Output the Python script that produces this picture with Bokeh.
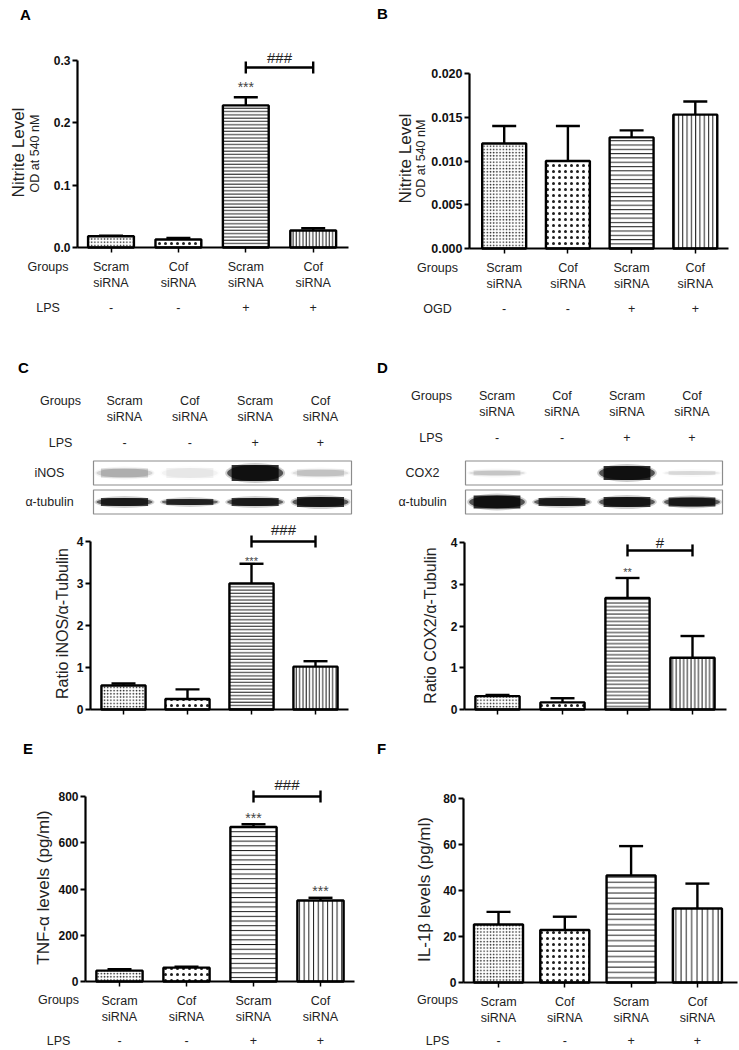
from math import pi
from bokeh.plotting import figure
from bokeh.models import Range1d, FixedTicker, Label, ColumnDataSource
from bokeh.layouts import row, column
from bokeh.embed import file_html
from bokeh.resources import INLINE

# ---------------- data ----------------
positions = [1, 2, 3, 4]
group_labels = ["Scram\nsiRNA", "Cof\nsiRNA", "Scram\nsiRNA", "Cof\nsiRNA"]
group_line1 = ["Scram", "Cof", "Scram", "Cof"]
group_line2 = ["siRNA", "siRNA", "siRNA", "siRNA"]
treatment_signs = ["-", "-", "+", "+"]

a_mean = [0.0180, 0.0128, 0.2280, 0.0273]
a_sem = [0.0010, 0.0025, 0.0130, 0.0037]
a_ticks = [0.0, 0.1, 0.2, 0.3]
a_tick_labels = ["0.0", "0.1", "0.2", "0.3"]
a_stars = ["", "", "***", ""]
a_bracket = 0.2888

b_mean = [0.0120, 0.0100, 0.0127, 0.0153]
b_sem = [0.0020, 0.0040, 0.0008, 0.0015]
b_ticks = [0.0, 0.005, 0.010, 0.015, 0.020]
b_tick_labels = ["0.000", "0.005", "0.010", "0.015", "0.020"]

c_mean = [0.57, 0.25, 3.00, 1.02]
c_sem = [0.05, 0.23, 0.47, 0.13]
c_ticks = [0, 1, 2, 3, 4]
c_tick_labels = ["0", "1", "2", "3", "4"]
c_stars = ["", "", "***", ""]
c_bracket = 4.0
inos_band = [0.22, 0.06, 1.0, 0.16]
inos_band_h = [9, 10, 16, 7]
tubulin_c_band = [0.9, 0.85, 0.9, 0.95]
tubulin_c_band_h = [8, 6, 8, 10]

d_mean = [0.32, 0.17, 2.67, 1.24]
d_sem = [0.03, 0.10, 0.48, 0.52]
d_ticks = [0, 1, 2, 3, 4]
d_tick_labels = ["0", "1", "2", "3", "4"]
d_stars = ["", "", "**", ""]
d_bracket = 3.81
cox2_band = [0.15, 0.0, 1.0, 0.10]
cox2_band_h = [5, 0, 14, 4]
tubulin_d_band = [1.0, 0.9, 0.95, 0.92]
tubulin_d_band_h = [13, 8, 10, 9]

e_mean = [47, 60, 668, 350]
e_sem = [6, 4, 12, 12]
e_ticks = [0, 200, 400, 600, 800]
e_tick_labels = ["0", "200", "400", "600", "800"]
e_stars = ["", "", "***", "***"]
e_bracket = 800

f_mean = [25.2, 22.8, 46.5, 32.2]
f_sem = [5.5, 5.8, 12.8, 10.8]
f_ticks = [0, 20, 40, 60, 80]
f_tick_labels = ["0", "20", "40", "60", "80"]

# ---------------- styling ----------------
FONT = "Liberation Sans"
TXT = "#222222"
bar_patterns = ["dot", "dot", "horizontal_line", "vertical_line"]


class Panel:
    """A figure whose frame fills the whole canvas; page pixels map linearly to data."""

    def __init__(self, ox, oy, w, h, px1, sp, b0, k, axis_l, axis_r, lane=None):
        self.px1, self.sp, self.b0, self.k = px1, sp, b0, k
        self.axis_l, self.axis_r = axis_l, axis_r
        p = figure(width=w, height=h,
                   x_range=Range1d(self.X(ox), self.X(ox + w)),
                   y_range=Range1d(self.Y(oy + h), self.Y(oy)),
                   output_backend="svg", toolbar_location=None, min_border=0)
        p.outline_line_color = None
        p.background_fill_color = "white"
        p.border_fill_color = "white"
        p.grid.visible = False
        if lane:
            self.lane_px1, self.lane_sp = lane
            p.extra_x_ranges = {"lane": Range1d(self.L(ox), self.L(ox + w))}
        self.p = p

    def X(self, px):
        return 1 + (px - self.px1) / self.sp

    def L(self, px):
        return 1 + (px - self.lane_px1) / self.lane_sp

    def Y(self, py):
        return (self.b0 - py) / self.k


def label_d(P, x, y, text, size="12.5px", bold=False, angle=0, color=TXT, xr="default"):
    P.p.add_layout(Label(x=x, y=y, text=text, text_font=FONT, text_font_size=size,
                         text_font_style="bold" if bold else "normal", text_color=color,
                         angle=angle, text_align="center", text_baseline="middle",
                         x_range_name=xr))


def label(P, px, py, text, **kw):
    label_d(P, P.X(px), P.Y(py), text, **kw)


def style_axes(P, yticks, ylabels, xlabels=None, ysize="12px"):
    p = P.p
    ya = p.yaxis[0]
    ya.fixed_location = P.X(P.axis_l)
    ya.ticker = FixedTicker(ticks=yticks)
    ya.major_label_overrides = dict(zip(yticks, ylabels))
    ya.bounds = (yticks[0], yticks[-1])
    ya.axis_line_width = 2.2
    ya.axis_line_color = "black"
    ya.major_tick_line_width = 2
    ya.major_tick_out = 5
    ya.major_tick_in = 0
    ya.minor_tick_line_color = None
    ya.major_label_text_font = FONT
    ya.major_label_text_font_size = ysize
    ya.major_label_text_font_style = "bold"
    ya.major_label_text_color = "#111111"
    ya.major_label_standoff = 2
    xa = p.xaxis[0]
    xa.fixed_location = 0
    xa.bounds = (P.X(P.axis_l), P.X(P.axis_r))
    xa.ticker = FixedTicker(ticks=positions)
    xa.axis_line_width = 2.2
    xa.axis_line_color = "black"
    xa.major_tick_line_width = 1.5
    xa.major_tick_out = 5
    xa.major_tick_in = 0
    xa.minor_tick_line_color = None
    if xlabels:
        xa.major_label_overrides = dict(zip(positions, xlabels))
        xa.major_label_text_font = FONT
        xa.major_label_text_font_size = "12.5px"
        xa.major_label_text_color = TXT
        xa.major_label_standoff = 7
    else:
        xa.major_label_overrides = {x: "" for x in positions}
        xa.major_label_text_font_size = "0px"
        xa.major_label_standoff = 0


def bars(P, mean, sem, width, line_scale, cap_px=12):
    scales = [3.2, 6.0, line_scale, line_scale]
    weights = [3.0, 5.5, 1.0, 1.0]
    src = ColumnDataSource(dict(x=positions, top=mean, hp=bar_patterns, hs=scales, hw=weights))
    P.p.vbar(x="x", top="top", width=width, source=src, fill_color="white",
             line_color="black", line_width=2.4, hatch_pattern="hp",
             hatch_scale="hs", hatch_weight="hw", hatch_color="#1e1e1e")
    tops = [m + s for m, s in zip(mean, sem)]
    P.p.segment(x0=positions, y0=mean, x1=positions, y1=tops, line_color="black", line_width=2.4)
    cw = cap_px / P.sp
    P.p.segment(x0=[x - cw for x in positions], y0=tops, x1=[x + cw for x in positions], y1=tops,
                line_color="black", line_width=2.4)
    return tops


def stars(P, tops, marks, above_px, size="14px"):
    for x, t, s in zip(positions, tops, marks):
        if s:
            label_d(P, x, t + above_px / P.k, s, size=size, color="#444444")


def bracket(P, i, j, level, text, above_px, size="15px"):
    x0, x1 = positions[i], positions[j]
    P.p.segment(x0=[x0], y0=[level], x1=[x1], y1=[level], line_color="black", line_width=2.4)
    h = 6 / P.k
    P.p.segment(x0=[x0, x1], y0=[level - h] * 2, x1=[x0, x1], y1=[level + h] * 2,
                line_color="black", line_width=2.4)
    label_d(P, (x0 + x1) / 2, level + above_px / P.k, text, size=size, color="#222222")


def sign_row(P, py, name, name_px, xr="default"):
    label(P, name_px, py, name)
    for x, s in zip(positions, treatment_signs):
        label_d(P, x, P.Y(py), s, xr=xr)


def group_rows(P, py1, py2, name_px):
    label(P, name_px, py1, "Groups")
    for x, t1, t2 in zip(positions, group_line1, group_line2):
        label_d(P, x, P.Y(py1), t1, xr="lane")
        label_d(P, x, P.Y(py2), t2, xr="lane")


def blot(P, rows_py, names, bands, heights, left_px, right_px, name_px):
    xl, xr = P.L(left_px), P.L(right_px)
    for py, name, dark, hts in zip(rows_py, names, bands, heights):
        y = P.Y(py)
        P.p.rect(x=[(xl + xr) / 2], y=[y], width=[xr - xl], height=24, height_units="screen",
                 fill_color="white", line_color="#8c8c8c", line_width=1.2, x_range_name="lane")
        P.p.ellipse(x=positions, y=[y] * 4, width=[0.92] * 4,
                    height=[hh + 4 if hh > 0 else 0 for hh in hts], height_units="screen",
                    fill_color="black", fill_alpha=[d * 0.2 for d in dark], line_color=None,
                    x_range_name="lane")
        P.p.rect(x=positions, y=[y] * 4, width=[0.72] * 4, height=hts, height_units="screen",
                 fill_color="black", fill_alpha=[d * 0.8 for d in dark], line_color=None,
                 x_range_name="lane")
        P.p.ellipse(x=positions, y=[y] * 4, width=[0.86] * 4, height=hts, height_units="screen",
                    fill_color="black", fill_alpha=[d * 0.6 for d in dark], line_color=None,
                    x_range_name="lane")
        label(P, name_px, py, name)


# ---------------- panel A ----------------
A = Panel(0, 0, 370, 330, px1=110.5, sp=67.4, b0=247, k=187 / 0.3, axis_l=77, axis_r=348)
style_axes(A, a_ticks, a_tick_labels, group_labels)
ta = bars(A, a_mean, a_sem, 0.68, 3.3)
stars(A, ta, a_stars, 10)
bracket(A, 2, 3, a_bracket, "###", 10)
label(A, 25, 13.5, "A", size="15px", bold=True, color="black")
label(A, 18, 152, "Nitrite Level", size="17px", angle=pi / 2)
label(A, 34, 153, "OD at 540 nM", size="12.5px", angle=pi / 2)
label(A, 47.5, 266, "Groups")
sign_row(A, 307, "LPS", 47.5)

# ---------------- panel B ----------------
B = Panel(370, 0, 369, 330, px1=503.7, sp=63.7, b0=248, k=175 / 0.02, axis_l=469, axis_r=728)
style_axes(B, b_ticks, b_tick_labels, group_labels, ysize="12.5px")
bars(B, b_mean, b_sem, 0.69, 4.3)
label(B, 382, 13, "B", size="15px", bold=True, color="black")
label(B, 405, 158, "Nitrite Level", size="17px", angle=pi / 2)
label(B, 420, 158, "OD at 540 nM", size="12.5px", angle=pi / 2)
label(B, 437, 267, "Groups")
sign_row(B, 308, "OGD", 437)

# ---------------- panel C ----------------
C = Panel(0, 330, 370, 395, px1=123, sp=64, b0=709, k=42, axis_l=90, axis_r=348,
          lane=(124, 65.33))
style_axes(C, c_ticks, c_tick_labels)
tc = bars(C, c_mean, c_sem, 0.69, 3.3)
stars(C, tc, c_stars, 3, size="11px")
bracket(C, 2, 3, c_bracket, "###", 12)
label(C, 62, 623, "Ratio iNOS/α-Tubulin", size="16px", angle=pi / 2)
label(C, 23, 367, "C", size="15px", bold=True, color="black")
group_rows(C, 400, 416, 60)
sign_row(C, 442, "LPS", 60, xr="lane")
blot(C, [472.5, 501.5], ["iNOS", "α-tubulin"], [inos_band, tubulin_c_band],
     [inos_band_h, tubulin_c_band_h], 93, 351, 49)

# ---------------- panel D ----------------
D = Panel(370, 330, 369, 395, px1=497, sp=65, b0=709, k=41.75, axis_l=464, axis_r=726,
          lane=(496.5, 65))
style_axes(D, d_ticks, d_tick_labels)
td = bars(D, d_mean, d_sem, 0.68, 3.7)
stars(D, td, d_stars, 6, size="11px")
bracket(D, 2, 3, d_bracket, "#", 8)
label(D, 430, 625, "Ratio COX2/α-Tubulin", size="16px", angle=pi / 2)
label(D, 382, 367, "D", size="15px", bold=True, color="black")
group_rows(D, 395, 411, 431)
sign_row(D, 437, "LPS", 430.5, xr="lane")
blot(D, [472.5, 501.5], ["COX2", "α-tubulin"], [cox2_band, tubulin_d_band],
     [cox2_band_h, tubulin_d_band_h], 465, 722, 422)

# ---------------- panel E ----------------
E = Panel(0, 725, 370, 325, px1=119, sp=67, b0=981, k=185 / 800, axis_l=85, axis_r=354)
style_axes(E, e_ticks, e_tick_labels, group_labels)
te = bars(E, e_mean, e_sem, 0.69, 4.7)
stars(E, te, e_stars, 6.5)
bracket(E, 2, 3, e_bracket, "###", 12)
label(E, 27.5, 748, "E", size="15px", bold=True, color="black")
label(E, 43, 887, "TNF-α levels (pg/ml)", size="17px", angle=pi / 2)
label(E, 58, 999, "Groups")
sign_row(E, 1040, "LPS", 58)

# ---------------- panel F ----------------
F = Panel(370, 725, 369, 325, px1=498, sp=66.3, b0=982, k=184 / 80, axis_l=463, axis_r=737)
style_axes(F, f_ticks, f_tick_labels, group_labels)
bars(F, f_mean, f_sem, 0.74, 5.3)
label(F, 381, 748, "F", size="15px", bold=True, color="black")
label(F, 424, 889, "IL-1β levels (pg/ml)", size="17px", angle=pi / 2)
label(F, 437, 999, "Groups")
sign_row(F, 1040, "LPS", 437)

layout = column(
    row(A.p, B.p),
    row(C.p, D.p),
    row(E.p, F.p),
)

open("out.html", "w").write(file_html(layout, INLINE))
